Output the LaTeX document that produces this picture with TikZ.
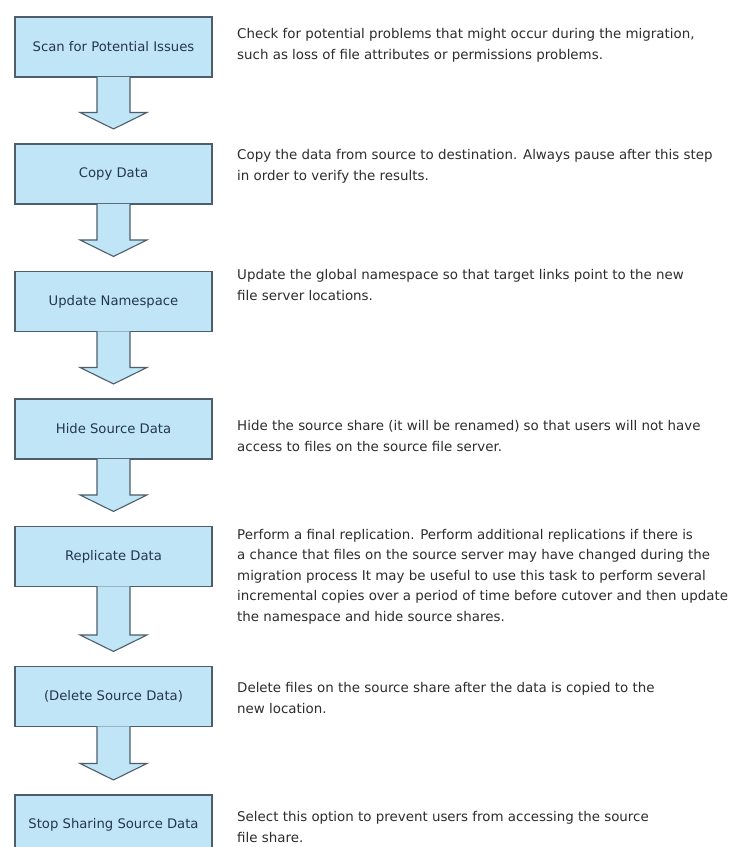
\documentclass[tikz,border=0pt]{standalone}
\usepackage{fontspec}
\setmainfont{DejaVu Sans}

\definecolor{boxblue}{RGB}{192,229,247}
\definecolor{boxline}{RGB}{78,94,106}
\definecolor{labeltext}{RGB}{36,54,76}
\definecolor{desctext}{RGB}{45,45,45}

\tikzstyle{stage} = [draw=boxline, fill=boxblue, line width=1.1pt, minimum width=197pt, minimum height=60pt, inner sep=0pt, text=labeltext, font=\fontsize{13.2}{15}\selectfont]
\tikzstyle{desc}  = [anchor=base west, inner sep=0pt, text=desctext, align=left, font=\fontsize{13.4}{20.5}\selectfont]
\tikzstyle{flow}  = [draw=boxline, fill=boxblue, line width=1.1pt, line join=miter]

\begin{document}
\begin{tikzpicture}[x=1pt, y=-1pt]
  \useasboundingbox[fill=white] (0,0) rectangle (742,847);
  \begin{scope}
    \clip (0,0) rectangle (742,847);
    % the steps
    \node[stage] (scan)      at (113.5, 47)    {Scan for Potential Issues};
    \node[stage] (copy)      at (113.5, 174)   {Copy Data};
    \node[stage] (update)    at (113.5, 301.5) {Update Namespace};
    \node[stage] (hide)      at (113.5, 429)   {Hide Source Data};
    \node[stage] (replicate) at (113.5, 556.5) {Replicate Data};
    \node[stage] (delete)    at (113.5, 696.5) {(Delete Source Data)};
    \node[stage] (stop)      at (113.5, 825)   {Stop Sharing Source Data};
    % block arrows between the steps
    \foreach \a/\b in {scan/copy, copy/update, update/hide, hide/replicate, replicate/delete, delete/stop}
      \draw[flow] ([xshift=-16.5pt, yshift=0.6pt]\a.south)
        -- ([xshift=-16.5pt, yshift=31pt]\b.north)
        -- ([xshift=-33.5pt, yshift=31pt]\b.north)
        -- ([yshift=14.5pt]\b.north)
        -- ([xshift=33.5pt, yshift=31pt]\b.north)
        -- ([xshift=16.5pt, yshift=31pt]\b.north)
        -- ([xshift=16.5pt, yshift=0.6pt]\a.south);
  \end{scope}
  % what each step does (anchored on the baseline of the last line)
  \node[desc] (scandesc)      at (237, 59)  {Check for potential problems that might occur during the migration,\\such as loss of file attributes or permissions problems.};
  \node[desc] (copydesc)      at (237, 180) {Copy the data from source to destination. Always pause after this step\\in order to verify the results.};
  \node[desc] (updatedesc)    at (237, 300) {Update the global namespace so that target links point to the new\\file server locations.};
  \node[desc] (hidedesc)      at (237, 451) {Hide the source share (it will be renamed) so that users will not have\\access to files on the source file server.};
  \node[desc] (replicatedesc) at (237, 621) {Perform a final replication. Perform additional replications if there is\\a chance that files on the source server may have changed during the\\migration process  It may be useful to use this task to perform several\\incremental copies over a period of time before cutover and then update\\the namespace and hide source shares.};
  \node[desc] (deletedesc)    at (237, 713) {Delete files on the source share after the data is copied to the\\new location.};
  \node[desc] (stopdesc)      at (237, 842) {Select this option to prevent users from accessing the source\\file share.};
\end{tikzpicture}
\end{document}
